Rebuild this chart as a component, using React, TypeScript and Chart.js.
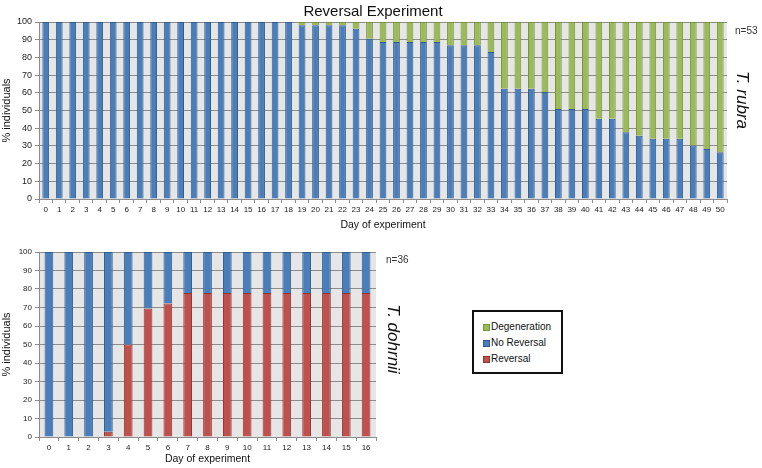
import React, { useEffect, useRef } from "react";
import { Chart, registerables } from "chart.js";

Chart.register(...registerables);

const rubraDays = ["0","1","2","3","4","5","6","7","8","9","10","11","12","13","14","15","16","17","18","19","20","21","22","23","24","25","26","27","28","29","30","31","32","33","34","35","36","37","38","39","40","41","42","43","44","45","46","47","48","49","50"];
const rubraNoReversal = [100,100,100,100,100,100,100,100,100,100,100,100,100,100,100,100,100,100,100,98.1,98.1,98.1,98.1,96.2,90.6,88.7,88.7,88.7,88.7,88.7,86.8,86.8,86.8,83.0,62.3,62.3,62.3,60.4,50.9,50.9,50.9,45.3,45.3,37.7,35.8,34.0,34.0,34.0,30.2,28.3,26.4];
const rubraDegeneration = [0,0,0,0,0,0,0,0,0,0,0,0,0,0,0,0,0,0,0,1.9,1.9,1.9,1.9,3.8,9.4,11.3,11.3,11.3,11.3,11.3,13.2,13.2,13.2,17.0,37.7,37.7,37.7,39.6,49.1,49.1,49.1,54.7,54.7,62.3,64.2,66.0,66.0,66.0,69.8,71.7,73.6];

const dohrniiDays = ["0","1","2","3","4","5","6","7","8","9","10","11","12","13","14","15","16"];
const dohrniiReversal = [0,0,0,2.8,50,69.4,72.2,77.8,77.8,77.8,77.8,77.8,77.8,77.8,77.8,77.8,77.8];
const dohrniiNoReversal = [100,100,100,97.2,50,30.6,27.8,22.2,22.2,22.2,22.2,22.2,22.2,22.2,22.2,22.2,22.2];

const yTicks = [0,10,20,30,40,50,60,70,80,90,100];

const FONT = "'Liberation Sans', Arial, sans-serif";
const BLUE = "#4a7ebb";
const BLUE_B = "#2f5c8f";
const GREEN = "#9bbb59";
const GREEN_B = "#76923c";
const RED = "#c0504d";
const RED_B = "#8e3532";
const GRID = "#8c8c8c";

const bgPlugin = {
  id: "plotBg",
  beforeDraw(chart: any) {
    const { ctx, chartArea } = chart;
    ctx.save();
    ctx.fillStyle = "#e6e6e6";
    ctx.fillRect(chartArea.left, chartArea.top, chartArea.right - chartArea.left, chartArea.bottom - chartArea.top);
    ctx.restore();
  },
};

function makeOptions(yWidth: number, xHeight: number, padding: any, yTickSize: number, xTickSize: number) {
  return {
    responsive: false,
    maintainAspectRatio: false,
    animation: false,
    layout: { padding },
    plugins: { legend: { display: false }, title: { display: false }, tooltip: { enabled: false } },
    scales: {
      x: {
        stacked: true,
        afterFit: (s: any) => { s.height = xHeight; },
        grid: { display: true, drawOnChartArea: false, drawTicks: true, tickLength: 4, color: GRID, offset: true },
        border: { display: true, color: GRID },
        ticks: { color: "#222", font: { family: FONT, size: xTickSize }, padding: 2, maxRotation: 0, autoSkip: false },
        title: { display: true, text: "Day of experiment", color: "#111", font: { family: FONT, size: 10.5 }, padding: { top: 0, bottom: 3 } },
      },
      y: {
        stacked: true,
        min: 0,
        max: 100,
        afterFit: (s: any) => { s.width = yWidth; },
        afterBuildTicks: (s: any) => { s.ticks = yTicks.map((v) => ({ value: v })); },
        grid: { color: GRID, tickLength: 4, drawTicks: true },
        border: { display: true, color: GRID },
        ticks: { color: "#222", font: { family: FONT, size: yTickSize }, padding: 3 },
        title: { display: true, text: "% individuals", color: "#111", font: { family: FONT, size: 11 }, padding: 0 },
      },
    },
  } as any;
}

function TopChart() {
  const ref = useRef<HTMLCanvasElement>(null);
  useEffect(() => {
    const chart = new Chart(ref.current!, {
      type: "bar",
      data: {
        labels: rubraDays,
        datasets: [
          { label: "No Reversal", data: rubraNoReversal, backgroundColor: BLUE, borderColor: BLUE_B, borderWidth: 1, barPercentage: 0.5, categoryPercentage: 1 },
          { label: "Degeneration", data: rubraDegeneration, backgroundColor: GREEN, borderColor: GREEN_B, borderWidth: 1, barPercentage: 0.5, categoryPercentage: 1 },
        ],
      },
      options: makeOptions(39, 35, { top: 22, right: 35, left: 0, bottom: 0 }, 9, 8),
      plugins: [bgPlugin],
    });
    return () => chart.destroy();
  }, []);
  return <canvas ref={ref} width={762} height={234} style={{ position: "absolute", left: 0, top: 0 }} />;
}

function BottomChart() {
  const ref = useRef<HTMLCanvasElement>(null);
  useEffect(() => {
    const chart = new Chart(ref.current!, {
      type: "bar",
      data: {
        labels: dohrniiDays,
        datasets: [
          { label: "Reversal", data: dohrniiReversal, backgroundColor: RED, borderColor: RED_B, borderWidth: 1, barPercentage: 0.44, categoryPercentage: 1 },
          { label: "No Reversal", data: dohrniiNoReversal, backgroundColor: BLUE, borderColor: BLUE_B, borderWidth: 1, barPercentage: 0.44, categoryPercentage: 1 },
        ],
      },
      options: makeOptions(39, 31, { top: 12, right: 14, left: 0, bottom: 0 }, 8, 8),
      plugins: [bgPlugin],
    });
    return () => chart.destroy();
  }, []);
  return <canvas ref={ref} width={390} height={228} style={{ position: "absolute", left: 0, top: 240 }} />;
}

const legendItems = [
  { label: "Degeneration", color: GREEN, border: GREEN_B },
  { label: "No Reversal", color: BLUE, border: BLUE_B },
  { label: "Reversal", color: RED, border: RED_B },
];

const text = (extra: any) => ({ position: "absolute", fontFamily: FONT, color: "#111", whiteSpace: "nowrap", ...extra }) as any;

export default function App() {
  return (
    <div style={{ position: "fixed", left: 0, top: 0, width: 762, height: 468, background: "#fff", overflow: "hidden" }}>
      <TopChart />
      <BottomChart />
      <div style={text({ left: 373, top: 10, fontSize: 15, transform: "translate(-50%,-50%)" })}>Reversal Experiment</div>
      <div style={text({ left: 735, top: 25, fontSize: 10, color: "#333" })}>n=53</div>
      <div style={text({ left: 742, top: 100, fontSize: 17, fontStyle: "italic", transform: "translate(-50%,-50%) rotate(90deg)" })}>T. rubra</div>
      <div style={text({ left: 386, top: 254, fontSize: 10, color: "#333" })}>n=36</div>
      <div style={text({ left: 393, top: 339, fontSize: 17, fontStyle: "italic", transform: "translate(-50%,-50%) rotate(90deg)" })}>T. dohrnii</div>
      <div style={{ position: "absolute", left: 472, top: 310, width: 87, height: 60, border: "2px solid #111", background: "#fff" }}>
        {legendItems.map((it, i) => (
          <div key={it.label} style={text({ left: 9, top: 9 + i * 16, fontSize: 10, display: "flex", alignItems: "center", lineHeight: "12px" })}>
            <span style={{ display: "inline-block", width: 5, height: 5, background: it.color, border: `1px solid ${it.border}`, marginRight: 1 }} />
            {it.label}
          </div>
        ))}
      </div>
    </div>
  );
}
